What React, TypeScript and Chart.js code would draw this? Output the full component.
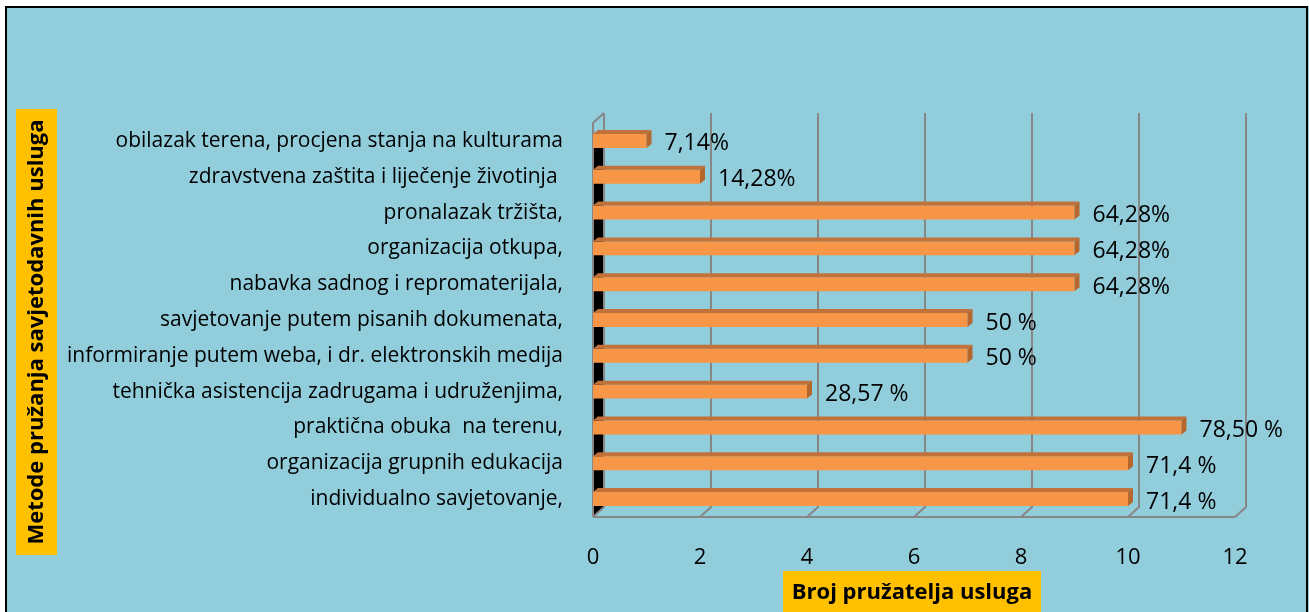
import React, { useEffect, useRef } from "react";
import { Chart, registerables } from "chart.js";

Chart.register(...registerables);

const CATEGORIES = [
  "obilazak terena, procjena stanja na kulturama",
  "zdravstvena zaštita i liječenje životinja ",
  "pronalazak tržišta,",
  "organizacija otkupa,",
  "nabavka sadnog i repromaterijala,",
  "savjetovanje putem pisanih dokumenata,",
  "informiranje putem weba, i dr. elektronskih medija",
  "tehnička asistencija zadrugama i udruženjima,",
  "praktična obuka  na terenu,",
  "organizacija grupnih edukacija",
  "individualno savjetovanje,",
];
const VALUES = [1, 2, 9, 9, 9, 7, 7, 4, 11, 10, 10];
const PERCENT_LABELS = [
  "7,14%",
  "14,28%",
  "64,28%",
  "64,28%",
  "64,28%",
  "50 %",
  "50 %",
  "28,57 %",
  "78,50 %",
  "71,4 %",
  "71,4 %",
];
const X_MIN = 0;
const X_MAX = 12;
const X_STEP = 2;
const Y_TITLE = "Metode pružanja savjetodavnih usluga";
const X_TITLE = "Broj pružatelja usluga";

const FONT = "'Open Sans', 'Noto Sans', sans-serif";
const BG = "#92CDDC";
const BAR = "#F79646";
const BAR_TOP = "#C0723A";
const BAR_SIDE = "#B5672E";
const GRID = "#878787";
const TITLE_BG = "#FFC000";
const WALL_D = { x: 11, y: -10 };
const BAR_D = { x: 5, y: -4 };

const decor = {
  id: "decor",
  beforeDraw(chart: any) {
    const { ctx, chartArea: a, scales } = chart;
    const xs = scales.x;
    ctx.save();
    ctx.fillStyle = "#ffffff";
    ctx.fillRect(0, 0, chart.width, chart.height);
    ctx.fillStyle = BG;
    ctx.fillRect(5, 6, chart.width - 5, chart.height);
    ctx.strokeStyle = "#000";
    ctx.lineWidth = 2;
    ctx.strokeRect(6, 7, chart.width - 8, chart.height + 20);

    const meta = chart.getDatasetMeta(0);
    const first = meta.data[0];
    if (first) {
      const y1 = first.y;
      ctx.fillStyle = "#000";
      ctx.beginPath();
      ctx.moveTo(a.left + 1, y1 + 4);
      ctx.lineTo(a.left + WALL_D.x, y1 + 4 + WALL_D.y);
      ctx.lineTo(a.left + WALL_D.x, a.bottom + WALL_D.y);
      ctx.lineTo(a.left + 1, a.bottom);
      ctx.closePath();
      ctx.fill();
    }

    ctx.strokeStyle = GRID;
    ctx.lineWidth = 2;
    for (let v = X_MIN; v <= X_MAX; v += X_STEP) {
      const px = xs.getPixelForValue(v);
      ctx.beginPath();
      ctx.moveTo(px + WALL_D.x, a.top + WALL_D.y);
      ctx.lineTo(px + WALL_D.x, a.bottom + WALL_D.y);
      ctx.lineTo(px, a.bottom);
      ctx.stroke();
    }
    ctx.beginPath();
    ctx.moveTo(a.left, a.bottom);
    ctx.lineTo(a.right, a.bottom);
    ctx.stroke();
    ctx.beginPath();
    ctx.moveTo(a.left, a.bottom);
    ctx.lineTo(a.left, a.top);
    ctx.lineTo(a.left + WALL_D.x, a.top + WALL_D.y);
    ctx.stroke();
    ctx.restore();
  },
  afterDatasetsDraw(chart: any) {
    const { ctx } = chart;
    const meta = chart.getDatasetMeta(0);
    ctx.save();
    meta.data.forEach((el: any, i: number) => {
      const { x, y, base, height } = el.getProps(["x", "y", "base", "height"], true);
      const top = y - height / 2;
      const bottom = y + height / 2;
      ctx.fillStyle = BAR_TOP;
      ctx.beginPath();
      ctx.moveTo(base, top);
      ctx.lineTo(base + BAR_D.x, top + BAR_D.y);
      ctx.lineTo(x + BAR_D.x, top + BAR_D.y);
      ctx.lineTo(x, top);
      ctx.closePath();
      ctx.fill();
      ctx.fillStyle = BAR_SIDE;
      ctx.beginPath();
      ctx.moveTo(x, top);
      ctx.lineTo(x + BAR_D.x, top + BAR_D.y);
      ctx.lineTo(x + BAR_D.x, bottom + BAR_D.y);
      ctx.lineTo(x, bottom);
      ctx.closePath();
      ctx.fill();
      ctx.fillStyle = "#000";
      ctx.font = `23px ${FONT}`;
      ctx.textAlign = "left";
      ctx.textBaseline = "middle";
      ctx.fillText(PERCENT_LABELS[i], x + 18, y + 3);
    });
    ctx.restore();
  },
  afterDraw(chart: any) {
    const { ctx } = chart;
    ctx.save();
    ctx.fillStyle = TITLE_BG;
    ctx.fillRect(16, 109, 41, 446);
    ctx.translate(37, 332);
    ctx.rotate(-Math.PI / 2);
    ctx.fillStyle = "#000";
    ctx.font = `bold 22px ${FONT}`;
    ctx.textAlign = "center";
    ctx.textBaseline = "middle";
    ctx.fillText(Y_TITLE, 0, 0);
    ctx.restore();
    ctx.save();
    ctx.fillStyle = TITLE_BG;
    ctx.fillRect(783, 571, 258, 45);
    ctx.fillStyle = "#000";
    ctx.font = `bold 22px ${FONT}`;
    ctx.textAlign = "center";
    ctx.textBaseline = "middle";
    ctx.fillText(X_TITLE, 912, 593);
    ctx.restore();
  },
};

export default function App() {
  const ref = useRef<HTMLCanvasElement>(null);
  useEffect(() => {
    if (!ref.current) return;
    const chart = new Chart(ref.current, {
      type: "bar",
      data: {
        labels: CATEGORIES,
        datasets: [
          {
            data: VALUES,
            backgroundColor: BAR,
            borderWidth: 0,
            barPercentage: 0.39,
            categoryPercentage: 1,
          },
        ],
      },
      options: {
        indexAxis: "y",
        animation: false,
        responsive: false,
        maintainAspectRatio: false,
        layout: { padding: { top: 123, right: 74, left: 0, bottom: 0 } },
        plugins: { legend: { display: false }, tooltip: { enabled: false }, title: { display: false } },
        scales: {
          x: {
            min: X_MIN,
            max: X_MAX,
            border: { display: false },
            grid: { display: false, drawTicks: false },
            ticks: { stepSize: X_STEP, color: "#000", font: { family: FONT, size: 22 }, padding: 28 },
            afterFit: (s: any) => {
              s.height = 95;
            },
          },
          y: {
            border: { display: false },
            grid: { display: false, drawTicks: false },
            ticks: { color: "#000", font: { family: FONT, size: 21 }, padding: 30, autoSkip: false },
            afterFit: (s: any) => {
              s.width = 593;
            },
          },
        },
      },
      plugins: [decor],
    });
    return () => chart.destroy();
  }, []);
  return (
    <div style={{ position: "absolute", left: 0, top: 0, width: 1309, height: 612 }}>
      <canvas ref={ref} width={1309} height={612} style={{ display: "block" }} />
    </div>
  );
}
